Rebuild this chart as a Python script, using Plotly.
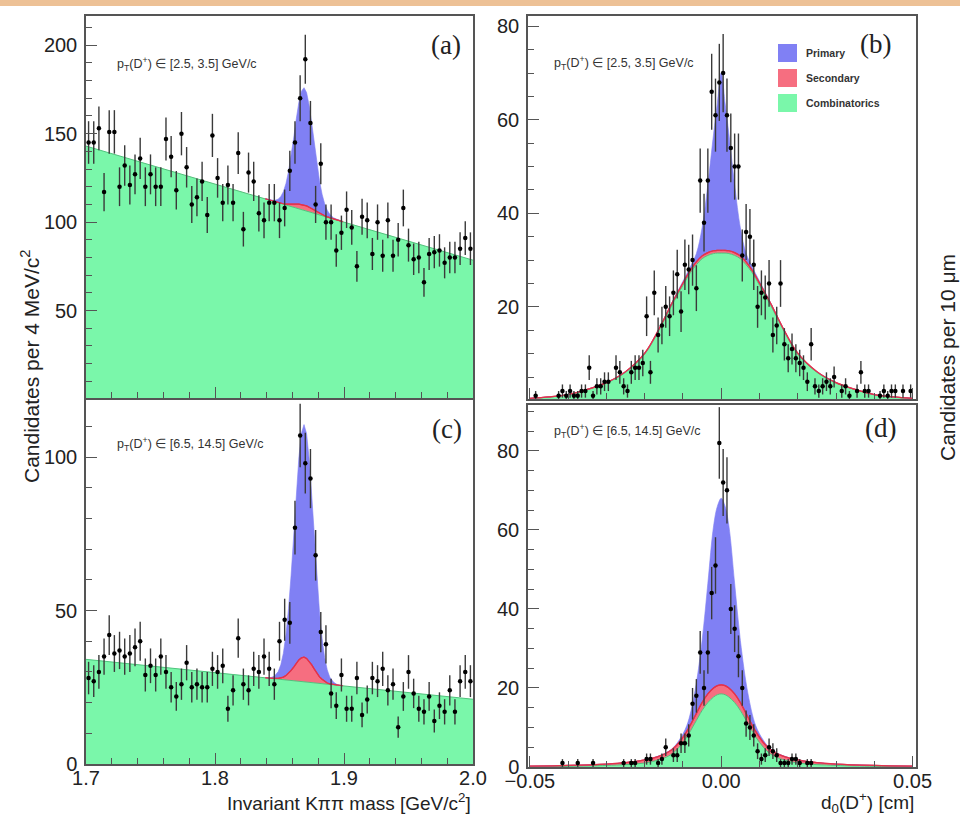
import math
import plotly.graph_objects as go

# ---------------- data ----------------
# invariant-mass histograms, 4 MeV bins from 1.70 to 2.00 GeV/c^2
mass_centers = [round(1.702 + 0.004 * i, 3) for i in range(75)]

mass_counts_low = [145, 145, 153, 117, 151, 151, 120, 132, 121, 127, 136, 120, 127, 120, 120,
                   147, 137, 118, 150, 131, 110, 114, 123, 104, 149, 125, 111, 121, 111, 139,
                   96, 128, 123, 105, 101, 111, 111, 101, 108, 129, 145, 170, 192, 156, 110,
                   133, 100, 100, 84, 94, 107, 97, 75, 103, 101, 82, 100, 81, 101, 81,
                   90, 108, 87, 79, 80, 66, 82, 83, 84, 77, 80, 80, 85, 91, 85]

mass_counts_high = [28, 27, 30, 35, 42, 36, 37, 35, 36, 38, 40, 29, 32, 29, 35,
                    30, 25, 22, 26, 33, 25, 26, 25, 25, 31, 30, 32, 18, 24, 41,
                    26, 24, 31, 30, 35, 31, 26, 40, 47, 46, 77, 107, 98, 93, 68,
                    43, 39, 23, 19, 29, 18, 18, 28, 16, 21, 28, 27, 31, 24, 26,
                    12, 22, 30, 23, 18, 17, 22, 14, 19, 17, 24, 17, 27, 30, 27]

# mass fit: linear combinatorial background (end points) and stacked peak components
mass_bkg_x = [1.7, 2.0]
mass_bkg_low = [143.0, 78.5]
mass_bkg_high = [34.1, 21.1]

mass_fit_x = [1.839, 1.843, 1.846, 1.849, 1.851, 1.853, 1.855, 1.857, 1.859, 1.861,
              1.863, 1.865, 1.867, 1.869, 1.871, 1.873, 1.875, 1.877, 1.879, 1.881,
              1.883, 1.885, 1.887, 1.889, 1.892, 1.895, 1.899]
mass_sec_low = [113.2, 112.3, 111.6, 111.1, 110.8, 110.4, 110.2, 110.1, 110.1, 110.1,
                110.2, 110.2, 110.0, 109.7, 109.2, 108.4, 107.6, 106.7, 105.8, 104.9,
                104.2, 103.6, 103.0, 102.5, 101.8, 101.1, 100.3]
mass_tot_low = [113.2, 112.5, 112.2, 113.0, 114.5, 117.2, 121.8, 128.6, 137.4, 147.6,
                158.3, 167.7, 174.0, 176.0, 173.2, 165.9, 155.7, 144.2, 133.1, 123.4,
                115.8, 110.4, 106.7, 104.4, 102.4, 101.3, 100.3]
mass_sec_high = [28.1, 27.9, 27.9, 27.9, 28.0, 28.3, 28.8, 29.5, 30.5, 31.6,
                 32.9, 33.9, 34.6, 34.8, 34.4, 33.5, 32.3, 30.9, 29.6, 28.4,
                 27.6, 26.9, 26.4, 26.1, 25.9, 25.6, 25.5]
mass_tot_high = [28.1, 28.1, 28.6, 30.1, 32.3, 36.1, 42.1, 50.6, 61.6, 74.5,
                 87.9, 99.7, 107.8, 110.6, 107.6, 99.3, 87.3, 73.8, 60.7, 49.5,
                 40.9, 34.7, 30.7, 28.3, 26.6, 25.8, 25.5]

# impact-parameter histograms (non-empty 10 um bins), d0 in cm
d0_low_x = [-0.0485, -0.0425, -0.0415, -0.0405, -0.0395, -0.0385, -0.0375, -0.0365, -0.0355,
            -0.0345, -0.0335, -0.0325, -0.0315, -0.0305, -0.0295, -0.0275, -0.0265, -0.0255,
            -0.0245, -0.0235, -0.0225, -0.0215, -0.0205, -0.0195, -0.0185, -0.0175, -0.0165,
            -0.0155, -0.0145, -0.0135, -0.0125, -0.0115, -0.0105, -0.0095, -0.0085, -0.0075,
            -0.0065, -0.0055, -0.0045, -0.0035, -0.0025, -0.0015, -0.0005, 0.0005, 0.0015,
            0.0025, 0.0035, 0.0045, 0.0055, 0.0065, 0.0075, 0.0085, 0.0095, 0.0105, 0.0115,
            0.0125, 0.0135, 0.0145, 0.0155, 0.0165, 0.0175, 0.0185, 0.0195, 0.0205, 0.0215,
            0.0225, 0.0235, 0.0245, 0.0255, 0.0265, 0.0275, 0.0285, 0.0295, 0.0315, 0.0325,
            0.0335, 0.0355, 0.0365, 0.0375, 0.0385, 0.0415, 0.0425, 0.0435, 0.0445, 0.0455,
            0.0475, 0.0495]
d0_low_counts = [1, 1, 2, 1, 2, 1, 1, 2, 2,
                 7, 1, 3, 3, 4, 4, 7, 6, 3,
                 2, 6, 7, 7, 8, 18, 6, 23, 14,
                 16, 20, 18, 23, 27, 19, 29, 28, 30,
                 24, 47, 38, 47, 66, 61, 68, 70, 61,
                 54, 50, 50, 31, 36, 35, 29, 20, 23, 22,
                 25, 14, 16, 25, 12, 9, 11, 9, 8, 7,
                 4, 12, 3, 2, 3, 4, 3, 5, 2, 3,
                 1, 2, 6, 2, 2, 1, 2, 1, 2, 2,
                 2, 2]

d0_high_x = [-0.0415, -0.0375, -0.0335, -0.0255, -0.0235, -0.0225, -0.0195, -0.0185, -0.0165,
             -0.0155, -0.0145, -0.0125, -0.0115, -0.0105, -0.0095, -0.0085, -0.0075, -0.0065,
             -0.0055, -0.0045, -0.0035, -0.0025, -0.0015, -0.0005, 0.0005, 0.0015, 0.0025,
             0.0035, 0.0045, 0.0055, 0.0065, 0.0075, 0.0085, 0.0095, 0.0105, 0.0115, 0.0125,
             0.0135, 0.0145, 0.0155, 0.0165, 0.0175, 0.0185, 0.0195, 0.0205, 0.0225, 0.0235]
d0_high_counts = [1, 1, 1, 1, 1, 1, 2, 2, 1,
                  2, 5, 3, 3, 6, 6, 8, 16, 18,
                  29, 20, 29, 44, 51, 82, 72, 70, 40,
                  35, 28, 20, 11, 10, 8, 4, 2, 3, 5,
                  4, 3, 1, 1, 1, 2, 2, 1, 1, 1]

# d0 fit: stacked component curves (combinatorics, +secondary, +primary)
d0_fit_low_x = [-0.05, -0.045, -0.04, -0.035, -0.03, -0.025, -0.02, -0.016, -0.013, -0.010,
                -0.008, -0.0065, -0.005, -0.0035, -0.002, -0.001, 0.0, 0.001, 0.002, 0.0035,
                0.005, 0.0065, 0.008, 0.010, 0.013, 0.016, 0.02, 0.025, 0.03, 0.035,
                0.04, 0.045, 0.05]
d0_comb_low = [0.4, 0.7, 1.2, 2.3, 3.7, 6.0, 9.9, 15.4, 20.2, 24.6,
               27.4, 29.0, 30.3, 31.0, 31.4, 31.5, 31.5, 31.5, 31.4, 31.0,
               30.3, 29.0, 27.4, 24.6, 20.2, 15.4, 9.9, 6.0, 3.7, 2.3,
               1.2, 0.7, 0.4]
d0_sec_low = [0.45, 0.75, 1.25, 2.35, 3.8, 6.15, 10.1, 15.7, 20.6, 25.1,
              27.9, 29.6, 30.9, 31.6, 32.0, 32.1, 32.1, 32.1, 32.0, 31.6,
              30.9, 29.6, 27.9, 25.1, 20.6, 15.7, 10.1, 6.15, 3.8, 2.35,
              1.25, 0.75, 0.45]
d0_tot_low = [0.45, 0.75, 1.25, 2.35, 3.8, 6.15, 10.1, 15.7, 20.7, 25.5,
              28.7, 31.4, 36.9, 46.1, 57.0, 63.6, 70.1, 63.6, 57.0, 46.1,
              36.9, 31.4, 28.7, 25.5, 20.7, 15.7, 10.1, 6.15, 3.8, 2.35,
              1.25, 0.75, 0.45]

d0_fit_high_x = [-0.05, -0.04, -0.03, -0.025, -0.02, -0.016, -0.013, -0.011, -0.009, -0.007,
                 -0.005, -0.0035, -0.002, -0.001, 0.0, 0.001, 0.002, 0.0035, 0.005, 0.007,
                 0.009, 0.011, 0.013, 0.016, 0.02, 0.025, 0.03, 0.04, 0.05]
d0_comb_high = [0.05, 0.15, 0.4, 0.6, 1.0, 1.9, 3.2, 5.0, 7.6, 10.9,
                14.3, 16.3, 17.7, 18.3, 18.5, 18.3, 17.7, 16.3, 14.3, 10.9,
                7.6, 5.0, 3.2, 1.9, 1.0, 0.6, 0.4, 0.15, 0.05]
d0_sec_high = [0.2, 0.4, 0.75, 1.1, 1.8, 2.8, 4.3, 6.2, 9.0, 12.6,
               16.3, 18.5, 20.0, 20.6, 20.8, 20.6, 20.0, 18.5, 16.3, 12.6,
               9.0, 6.2, 4.3, 2.8, 1.8, 1.1, 0.75, 0.4, 0.2]
d0_tot_high = [0.2, 0.4, 0.75, 1.1, 1.8, 2.9, 4.5, 6.8, 10.5, 18.5,
               32.0, 46.5, 61.0, 66.0, 68.0, 66.0, 61.0, 46.5, 32.0, 18.5,
               10.5, 6.8, 4.5, 2.9, 1.8, 1.1, 0.75, 0.4, 0.2]

panel_labels = ["(a)", "(b)", "(c)", "(d)"]
pt_bins = ["[2.5, 3.5]", "[2.5, 3.5]", "[6.5, 14.5]", "[6.5, 14.5]"]
legend_names = ["Primary", "Secondary", "Combinatorics"]

# ---------------- style ----------------
W, H = 960, 814
C_PRIM = "rgb(128,128,244)"
C_SEC = "rgb(246,110,128)"
C_COMB = "rgb(122,247,170)"
L_SEC = "rgb(228,50,75)"
L_COMB = "rgb(80,195,125)"
FRAME = "#555555"
SANS = "Liberation Sans, Arial, Helvetica, sans-serif"
SERIF = "Liberation Serif, Times New Roman, serif"


def px_x(p):
    return p / W


def px_y(p):
    return 1 - p / H


fig = go.Figure()


def add_fit(xa, ya, comb_x, comb_y, fit_x, sec_y, tot_y, shape):
    fig.add_trace(go.Scatter(x=comb_x, y=comb_y, mode="lines", fill="tozeroy",
                             fillcolor=C_COMB, line=dict(color=L_COMB, width=1, shape=shape),
                             xaxis=xa, yaxis=ya, showlegend=False, hoverinfo="skip"))
    fig.add_trace(go.Scatter(x=fit_x, y=sec_y, mode="lines", fill="tonexty",
                             fillcolor=C_SEC, line=dict(color=L_SEC, width=1.2, shape=shape),
                             xaxis=xa, yaxis=ya, showlegend=False, hoverinfo="skip"))
    fig.add_trace(go.Scatter(x=fit_x, y=tot_y, mode="lines", fill="tonexty",
                             fillcolor=C_PRIM, line=dict(color=C_PRIM, width=0.6, shape=shape),
                             xaxis=xa, yaxis=ya, showlegend=False, hoverinfo="skip"))
    # outline of the secondary component on top of the stack
    fig.add_trace(go.Scatter(x=fit_x, y=sec_y, mode="lines",
                             line=dict(color=L_SEC, width=1.2, shape=shape),
                             xaxis=xa, yaxis=ya, showlegend=False, hoverinfo="skip"))


def add_points(xa, ya, xs, counts):
    fig.add_trace(go.Scatter(
        x=xs, y=counts, mode="markers",
        marker=dict(color="black", size=4.5),
        error_y=dict(type="data", array=[math.sqrt(c) for c in counts],
                     color="#3a3a3a", thickness=1.4, width=0),
        xaxis=xa, yaxis=ya, showlegend=False))


# (a) low-pT mass
add_fit("x", "y", mass_bkg_x, mass_bkg_low, mass_fit_x, mass_sec_low, mass_tot_low, "linear")
add_points("x", "y", mass_centers, mass_counts_low)
# (b) low-pT d0
add_fit("x2", "y2", d0_fit_low_x, d0_comb_low, d0_fit_low_x, d0_sec_low, d0_tot_low, "spline")
add_points("x2", "y2", d0_low_x, d0_low_counts)
# (c) high-pT mass
add_fit("x3", "y3", mass_bkg_x, mass_bkg_high, mass_fit_x, mass_sec_high, mass_tot_high, "linear")
add_points("x3", "y3", mass_centers, mass_counts_high)
# (d) high-pT d0
add_fit("x4", "y4", d0_fit_high_x, d0_comb_high, d0_fit_high_x, d0_sec_high, d0_tot_high, "spline")
add_points("x4", "y4", d0_high_x, d0_high_counts)


def axis(domain, rng, dtick, tick0, minor_dtick, anchor, labels=True, fmt=None, standoff=3):
    a = dict(domain=domain, range=rng, anchor=anchor, automargin=False,
             showline=True, linecolor=FRAME, linewidth=1.5,
             mirror=True, ticks="inside", ticklen=11, tickwidth=1.2, tickcolor=FRAME,
             showgrid=False, zeroline=False, dtick=dtick, tick0=tick0,
             showticklabels=labels, ticklabelstandoff=standoff,
             tickfont=dict(family=SANS, size=20, color="#222222"),
             minor=dict(ticks="inside", ticklen=6, tickwidth=1, tickcolor=FRAME,
                        dtick=minor_dtick, tick0=tick0, showgrid=False))
    if fmt:
        a["tickformat"] = fmt
    return a


xa_dom = [px_x(86), px_x(473)]
xb_dom = [px_x(528), px_x(916)]
fig.update_layout(
    width=W, height=H,
    margin=dict(l=0, r=0, t=0, b=0, pad=0, autoexpand=False),
    paper_bgcolor="white", plot_bgcolor="white",
    xaxis=axis(xa_dom, [1.7, 2.0], 0.1, 1.7, 0.02, "y", labels=False),
    yaxis=axis([px_y(398), px_y(16)], [0.6, 216.5], 50, 0, 10, "x"),
    xaxis2=axis(xb_dom, [-0.0505, 0.0509], 0.05, 0, 0.01, "y2", labels=False),
    yaxis2=axis([px_y(399), px_y(16)], [0.3, 82.2], 20, 0, 5, "x2"),
    xaxis3=axis(xa_dom, [1.7, 2.0], 0.1, 1.7, 0.02, "y3", fmt=".1f", standoff=-5),
    yaxis3=axis([px_y(764), px_y(400)], [0, 118.6], 50, 0, 10, "x3"),
    xaxis4=axis(xb_dom, [-0.0505, 0.0509], 0.05, 0, 0.01, "y4", fmt=".2f", standoff=-5),
    yaxis4=axis([px_y(767), px_y(405)], [0, 91.6], 20, 0, 5, "x4"),
)

ann = []


def note(text, x, y, size, family=SANS, color="#222222", xanchor="center", angle=0):
    ann.append(dict(text=text, x=px_x(x), y=px_y(y), xref="paper", yref="paper",
                    xanchor=xanchor, yanchor="middle", textangle=angle, showarrow=False,
                    font=dict(family=family, size=size, color=color)))


# panel letters
for lab, (x, y) in zip(panel_labels, [(446, 45), (875, 44), (447, 429), (880, 428)]):
    note(lab, x, y, 27, family=SERIF)
# transverse-momentum interval labels
for rng_txt, (x, y) in zip(pt_bins, [(115, 64), (552, 63), (115, 444), (552, 431)]):
    note("p<sub>T</sub>(D<sup>+</sup>) \u2208 " + rng_txt + " GeV/c", x, y, 12.5,
         color="#333333", xanchor="left")
# axis titles
note("Invariant K\u03c0\u03c0 mass [GeV/c<sup>2</sup>]", 473, 802, 19, xanchor="right")
note("d<sub>0</sub>(D<sup>+</sup>) [cm]", 916, 802, 19, xanchor="right")
note("Candidates per 4 MeV/c<sup>2</sup>", 30, 367, 21, angle=-90)
note("Candidates per 10 \u03bcm", 947, 358, 21, angle=-90)

shapes = [dict(type="rect", xref="paper", yref="paper", x0=0, x1=1, y0=px_y(6), y1=1,
               fillcolor="rgb(237,193,150)", line=dict(width=0), layer="above")]
# legend swatches inside (b)
for name, col, y0 in zip(legend_names, [C_PRIM, C_SEC, C_COMB], [44, 69, 94]):
    shapes.append(dict(type="rect", xref="paper", yref="paper",
                       x0=px_x(778), x1=px_x(797), y0=px_y(y0 + 18), y1=px_y(y0),
                       fillcolor=col, line=dict(width=0), layer="above"))
    note("<b>" + name + "</b>", 804, y0 + 9, 10.5, color="#333333", xanchor="left")

fig.update_layout(annotations=ann, shapes=shapes)
fig.write_html("out.html")
